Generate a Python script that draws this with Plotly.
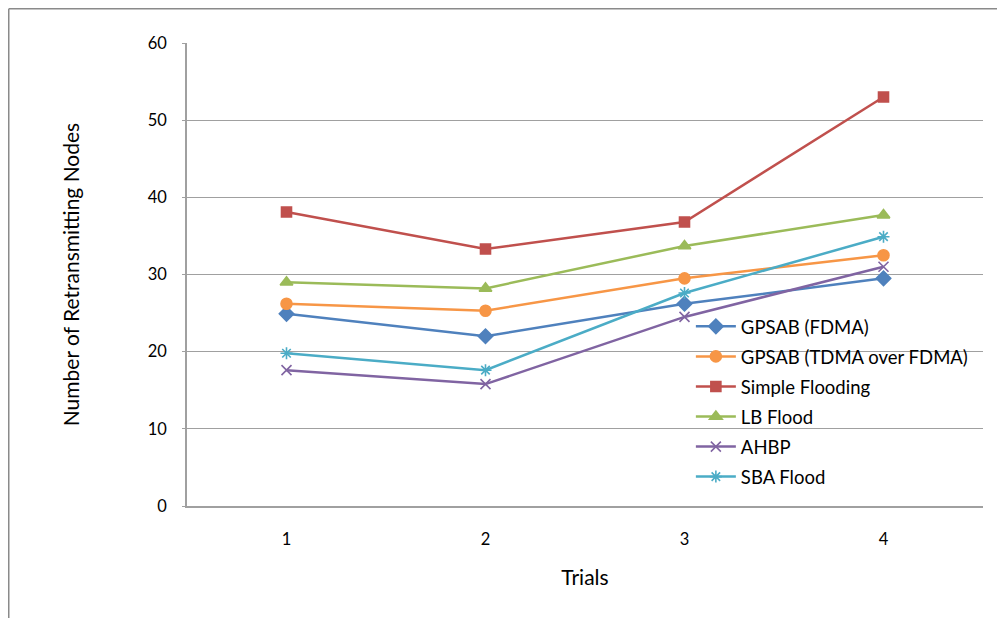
import plotly.graph_objects as go

trials = [1, 2, 3, 4]
tick_labels = ["1", "2", "3", "4"]
y_ticks = [0, 10, 20, 30, 40, 50, 60]

gpsab_fdma = [24.9, 22.0, 26.2, 29.5]
gpsab_tdma = [26.2, 25.3, 29.5, 32.5]
simple_flooding = [38.1, 33.3, 36.8, 53.0]
lb_flood = [29.0, 28.2, 33.7, 37.7]
ahbp = [17.6, 15.8, 24.5, 31.0]
sba_flood = [19.8, 17.6, 27.6, 34.9]

series = [
    ("GPSAB (FDMA)", gpsab_fdma, "#4F81BD", "diamond", 11),
    ("GPSAB (TDMA over FDMA)", gpsab_tdma, "#F79646", "circle", 11),
    ("Simple Flooding", simple_flooding, "#C0504D", "square", 10),
    ("LB Flood", lb_flood, "#9BBB59", "triangle-up", 11),
    ("AHBP", ahbp, "#8064A2", "x-thin-open", 10),
    ("SBA Flood", sba_flood, "#4BACC6", "asterisk-open", 10),
]

FONT = "Lato, Calibri, Carlito, sans-serif"

# page is rendered with an 8px body margin, so the figure is 8px smaller
W, H = 997, 610
L, R, T, B = 179, 22, 35, 112
PW = W - L - R
PH = H - T - B

fig = go.Figure()
for name, vals, color, sym, size in series:
    fig.add_trace(go.Scatter(
        x=trials, y=vals, name=name, mode="lines+markers",
        legendgroup=name,
        line=dict(color=color, width=2.5),
        marker=dict(symbol=sym, size=size, color=color,
                    line=dict(color=color, width=1.6)),
    ))

fig.update_layout(
    width=W, height=H,
    margin=dict(l=L, r=R, t=T, b=B),
    paper_bgcolor="white", plot_bgcolor="white",
    font=dict(family=FONT, size=16.5, color="black"),
    showlegend=True,
    legend=dict(x=0.633, y=0.428, xanchor="left", yanchor="top",
                bgcolor="rgba(0,0,0,0)", font=dict(size=18.5),
                tracegroupgap=3, itemwidth=40),
    xaxis=dict(
        range=[0.5, 4.5], tickvals=trials, ticktext=tick_labels,
        showgrid=False, zeroline=False, showline=True, linecolor="#A0A0A0",
        linewidth=1.5, ticks="", ticklabelstandoff=17,
        title=dict(text="Trials", standoff=23, font=dict(size=21)),
    ),
    yaxis=dict(
        range=[0, 60], tickvals=y_ticks, showgrid=True, gridcolor="#A0A0A0",
        gridwidth=1.3, zeroline=False, showline=True, linecolor="#A0A0A0",
        linewidth=1.5, ticks="outside", ticklen=3, tickcolor="#A0A0A0",
        ticklabelstandoff=12,
        title=dict(text="Number of Retransmitting Nodes", standoff=62,
                   font=dict(size=21)),
    ),
)

# chart-area border (top and left edges visible in the reference)
bx = (0.75 - L) / PW
by = (PH + T - 0.75) / PH
fig.add_shape(type="line", xref="paper", yref="paper",
              x0=bx, x1=(W + 5 - L) / PW, y0=by, y1=by,
              line=dict(color="#8A8A8A", width=1.5))
fig.add_shape(type="line", xref="paper", yref="paper",
              x0=bx, x1=bx, y0=by, y1=-(B + 5) / PH,
              line=dict(color="#8A8A8A", width=1.5))

fig.write_html("out.html")
